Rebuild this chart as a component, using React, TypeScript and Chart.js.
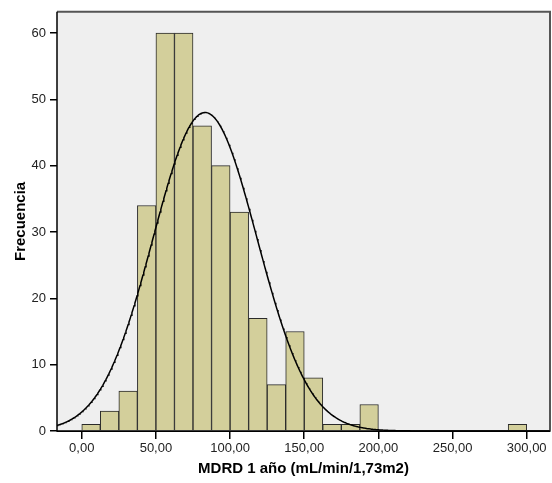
import React, { useEffect, useRef } from 'react';
import { Chart, registerables } from 'chart.js';
Chart.register(...registerables);

// Histogram bins (start of each bin) and frequencies
const binStarts = [0, 12.5, 25, 37.5, 50, 62.5, 75, 87.5, 100, 112.5, 125, 137.5, 150, 162.5, 175, 187.5, 287.5];
const counts = [1, 3, 6, 34, 60, 60, 46, 40, 33, 17, 7, 15, 8, 1, 1, 4, 1];
const binWidth = 12.5;
// Fitted normal curve parameters
const curveMean = 83.1;
const curveSd = 35;
// Axes
const xTickValues = [0, 50, 100, 150, 200, 250, 300];
const yTickValues = [0, 10, 20, 30, 40, 50, 60];
const xMin = -16.7;
const xMax = 315.7;
const yMax = 63.2;
const xTitle = 'MDRD 1 año (mL/min/1,73m2)';
const yTitle = 'Frecuencia';

const FONT = "Arial, 'Liberation Sans', sans-serif";

export default function App() {
  const ref = useRef<HTMLCanvasElement | null>(null);

  useEffect(() => {
    if (!ref.current) return;
    const total = counts.reduce((a, b) => a + b, 0);
    const curve: { x: number; y: number }[] = [];
    for (let x = xMin; x <= xMax + 0.001; x += 0.5) {
      const z = (x - curveMean) / curveSd;
      curve.push({ x, y: (total * binWidth) / (curveSd * Math.sqrt(2 * Math.PI)) * Math.exp(-0.5 * z * z) });
    }
    const bars = binStarts.map((s, i) => ({ x: s + binWidth / 2, y: counts[i] }));

    const framePlugin = {
      id: 'frame',
      beforeDatasetsDraw(chart: any) {
        const { ctx, chartArea: a } = chart;
        ctx.save();
        ctx.fillStyle = '#efefef';
        ctx.fillRect(a.left, a.top, a.right - a.left, a.bottom - a.top);
        ctx.restore();
      },
      afterDraw(chart: any) {
        const { ctx, chartArea: a } = chart;
        ctx.save();
        ctx.strokeStyle = '#555';
        ctx.lineWidth = 2;
        ctx.beginPath();
        ctx.moveTo(a.left, a.top);
        ctx.lineTo(a.right, a.top);
        ctx.lineTo(a.right, a.bottom);
        ctx.stroke();
        ctx.strokeStyle = '#000';
        ctx.lineWidth = 1.5;
        ctx.beginPath();
        ctx.moveTo(a.left, a.top);
        ctx.lineTo(a.left, a.bottom);
        ctx.lineTo(a.right, a.bottom);
        ctx.stroke();
        ctx.restore();
      },
    };

    const chart = new Chart(ref.current, {
      type: 'bar',
      data: {
        datasets: [
          {
            type: 'line',
            data: curve,
            borderColor: '#000',
            borderWidth: 1.5,
            pointRadius: 0,
            tension: 0,
            fill: false,
            order: 0,
          } as any,
          {
            type: 'bar',
            data: bars,
            backgroundColor: '#d3cf9b',
            borderColor: '#2a2a2a',
            borderWidth: 1,
            barPercentage: 1,
            categoryPercentage: 1,
            order: 1,
          } as any,
        ],
      },
      options: {
        animation: false,
        responsive: false,
        layout: { padding: { top: 9, right: 2, left: 0, bottom: 0 } },
        plugins: { legend: { display: false }, tooltip: { enabled: false } },
        scales: {
          x: {
            type: 'linear',
            offset: false,
            min: xMin,
            max: xMax,
            afterBuildTicks: (s: any) => {
              s.ticks = xTickValues.map((v) => ({ value: v }));
            },
            afterFit: (s: any) => {
              s.height = 52;
            },
            grid: { offset: false, drawOnChartArea: false, drawTicks: true, tickLength: 8, color: '#000', lineWidth: 1.5 },
            border: { display: true, color: '#000', width: 1 },
            ticks: {
              includeBounds: false,
              autoSkip: false,
              maxRotation: 0,
              padding: 2,
              color: '#222',
              font: { family: FONT, size: 13 },
              callback: (v: any) => Number(v).toFixed(2).replace('.', ','),
            },
            title: {
              display: true,
              text: xTitle,
              color: '#000',
              font: { family: FONT, size: 15, weight: 'bold' },
              padding: { top: 4, bottom: 5 },
            },
          },
          y: {
            type: 'linear',
            min: 0,
            max: yMax,
            afterBuildTicks: (s: any) => {
              s.ticks = yTickValues.map((v) => ({ value: v }));
            },
            afterFit: (s: any) => {
              s.width = 57;
            },
            grid: { drawOnChartArea: false, drawTicks: true, tickLength: 7, color: '#000', lineWidth: 1.5 },
            border: { display: true, color: '#000', width: 1 },
            ticks: {
              includeBounds: false,
              autoSkip: false,
              padding: 4,
              color: '#222',
              font: { family: FONT, size: 13 },
            },
            title: {
              display: true,
              text: yTitle,
              color: '#000',
              font: { family: FONT, size: 15, weight: 'bold' },
              padding: { top: 12, bottom: 0 },
            },
          },
        },
      },
      plugins: [framePlugin],
    } as any);
    return () => chart.destroy();
  }, []);

  return (
    <div style={{ position: 'absolute', left: 0, top: 0, width: 552, height: 483, background: '#fff' }}>
      <canvas ref={ref} width={552} height={483} style={{ display: 'block' }} />
    </div>
  );
}
